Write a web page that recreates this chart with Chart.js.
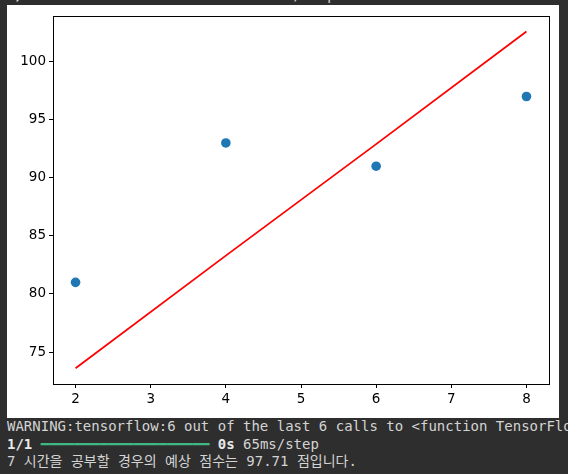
<!DOCTYPE html>
<html>
<head>
<meta charset="utf-8">
<script src="https://cdn.jsdelivr.net/npm/chart.js@4/dist/chart.umd.min.js"></script>
<style>
  html, body { margin: 0; padding: 0; background: #2e2e2e; width: 568px; height: 474px; overflow: hidden; }
  #fig { position: absolute; left: 7px; top: 5px; width: 552px; height: 413px; background: #fff; }
  #fig canvas { display: block; }
  .con { position: absolute; left: 7px; font: 14px 'DejaVu Sans Mono', 'Noto Sans CJK KR', monospace; color: #d4d4d4; white-space: pre; line-height: 17.5px; }
  .con b { color: #e8e8e8; }
  .bar { color: #3fb883; }
</style>
</head>
<body>
<div class="con" style="top:-13px"><b>1/1</b> <span class="bar">━━━━━━━━━━━━━━━━━━━━━━━</span> <b>0s</b> 6ms/step</div>
<div id="fig"><canvas id="c" width="552" height="413"></canvas></div>
<div class="con" style="top:418px">WARNING:tensorflow:6 out of the last 6 calls to &lt;function TensorFlow
<b>1/1</b> <span class="bar">━━━━━━━━━━━━━━━━━━━━</span> <b>0s</b> 65ms/step
7 시간을 공부할 경우의 예상 점수는 97.71 점입니다.</div>
<script>
  /* 공부 시간 vs 점수 (산점도 + 예측 직선) */
  var hours = [2, 4, 6, 8];
  var scores = [81, 93, 91, 97];
  var predicted = [73.6, 83.3, 92.9, 102.6];
  var xTicks = [2, 3, 4, 5, 6, 7, 8];
  var yTicks = [75, 80, 85, 90, 95, 100];

  function pts(xs, ys) { return xs.map(function (x, i) { return { x: x, y: ys[i] }; }); }

  // matplotlib 식 테두리(4면)
  var frame = {
    id: 'frame',
    afterDraw: function (chart) {
      var a = chart.chartArea, ctx = chart.ctx;
      ctx.save();
      ctx.strokeStyle = '#000'; ctx.lineWidth = 1;
      ctx.strokeRect(Math.round(a.left) + 0.5, Math.round(a.top) + 0.5, Math.round(a.right - a.left), Math.round(a.bottom - a.top));
      ctx.restore();
    }
  };

  var tickFont = { family: 'DejaVu Sans', size: 13.5 };
  function axisGrid() { return { display: true, drawOnChartArea: false, drawTicks: true, tickLength: 4, color: '#000', lineWidth: 1 }; }

  new Chart(document.getElementById('c').getContext('2d'), {
    type: 'scatter',
    data: {
      datasets: [
        { data: pts(hours, scores), backgroundColor: '#1f77b4', borderColor: '#1f77b4', pointRadius: 4.8, pointHoverRadius: 4.8, borderWidth: 0 },
        { data: pts(hours, predicted), showLine: true, borderColor: '#ff0000', borderWidth: 1.8, pointRadius: 0, fill: false, tension: 0 }
      ]
    },
    options: {
      responsive: false, animation: false, devicePixelRatio: 1,
      layout: { padding: { top: 11, right: 10, left: 0, bottom: 0 } },
      plugins: { legend: { display: false }, tooltip: { enabled: false } },
      scales: {
        x: {
          type: 'linear', min: 1.7, max: 8.3,
          grid: axisGrid(), border: { display: true, color: '#000', width: 1 },
          ticks: { font: tickFont, color: '#000', padding: 3, maxRotation: 0 },
          afterBuildTicks: function (s) { s.ticks = xTicks.map(function (v) { return { value: v }; }); },
          afterFit: function (s) { s.height = 34; }
        },
        y: {
          type: 'linear', min: 72.25, max: 103.92,
          grid: axisGrid(), border: { display: true, color: '#000', width: 1 },
          ticks: { font: tickFont, color: '#000', padding: 3 },
          afterBuildTicks: function (s) { s.ticks = yTicks.map(function (v) { return { value: v }; }); },
          afterFit: function (s) { s.width = 46; }
        }
      }
    },
    plugins: [frame]
  });
</script>
</body>
</html>
